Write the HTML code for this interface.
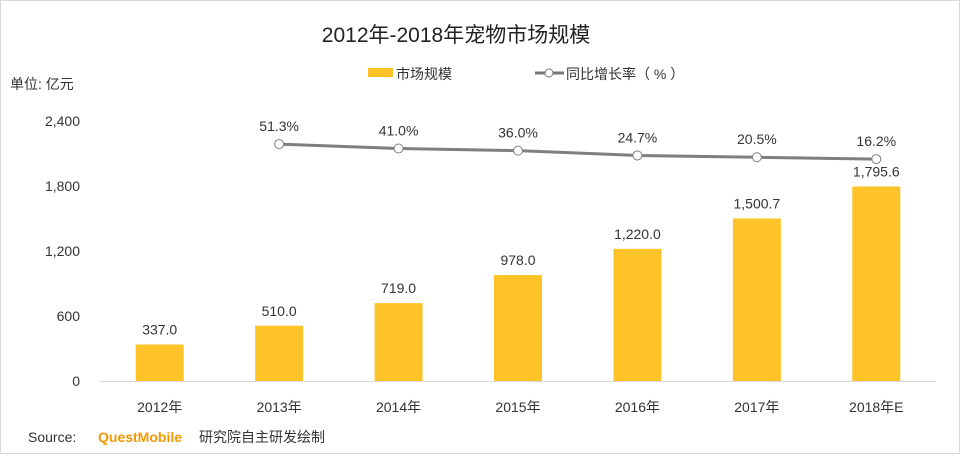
<!DOCTYPE html>
<html><head><meta charset="utf-8"><style>
html,body{margin:0;padding:0;background:#fff}
body{width:960px;height:454px;overflow:hidden;font-family:"Liberation Sans","Noto Sans CJK SC",sans-serif}
</style></head><body>
<svg id="c" width="960" height="454" xmlns="http://www.w3.org/2000/svg" style="font-family:'Liberation Sans','Noto Sans CJK SC',sans-serif">
<rect x="0.5" y="0.5" width="959" height="453" fill="#fff" stroke="#d9d9d9"/>
<text x="456" y="42" text-anchor="middle" font-size="21" fill="#222">2012年-2018年宠物市场规模</text>
<text x="10" y="89" font-size="14" fill="#333">单位: 亿元</text>
<g>
<rect x="368" y="68" width="25" height="9" fill="#FFC32A"/>
<text x="396" y="79" font-size="14" fill="#333">市场规模</text>
<line x1="535" y1="73" x2="564" y2="73" stroke="#777" stroke-width="3"/>
<circle cx="549" cy="73" r="4" fill="#fff" stroke="#777"/>
<text x="566" y="79" font-size="14" fill="#333">同比增长率（ % ）</text>
</g>
<g id="plot"></g>
<text x="28" y="442" font-size="14" fill="#333">Source:</text>
<text x="98" y="442" font-size="14" font-weight="bold" fill="#F39800">QuestMobile</text>
<text x="199" y="442" font-size="14" fill="#333">研究院自主研发绘制</text>
</svg>
<script>
const categories=["2012年","2013年","2014年","2015年","2016年","2017年","2018年E"];
const marketValues=[337.0,510.0,719.0,978.0,1220.0,1500.7,1795.6];
const growthRates=[null,51.3,41.0,36.0,24.7,20.5,16.2];
const yTicks=[0,600,1200,1800,2400];
const NS="http://www.w3.org/2000/svg";
const g=document.getElementById('plot');
const x0=100,x1=936,y0=381,yTop=121;
const band=(x1-x0)/categories.length;
const xc=i=>x0+band*(i+0.5);
const y=v=>y0-(v/2400)*(y0-yTop);
const y2=v=>166-v*0.427;
function mk(t,a){const e=document.createElementNS(NS,t);for(const k in a)e.setAttribute(k,a[k]);g.appendChild(e);return e;}
const fmt=(v,d)=>v.toLocaleString('en-US',{minimumFractionDigits:d,maximumFractionDigits:d});
yTicks.forEach(t=>{
 const e=mk('text',{x:80,y:y(t)+5,'text-anchor':'end','font-size':14,fill:'#333'});
 e.textContent=fmt(t,0);
 
 
});
const ax=mk('line',{x1:x0,y1:y0+0.5,x2:x1,y2:y0+0.5,stroke:'#d9d9d9'});


marketValues.forEach((v,i)=>{
 const b=mk('rect',{x:xc(i)-24,y:y(v),width:48,height:y0-y(v),fill:'#FFC32A'});
 
 
 const l=mk('text',{x:xc(i),y:y(v)-10,'text-anchor':'middle','font-size':14,fill:'#333'});
 l.textContent=fmt(v,1);
 
 
 const c=mk('text',{x:xc(i),y:412,'text-anchor':'middle','font-size':14,fill:'#333'});
 c.textContent=categories[i];
 
 
});
const pts=growthRates.map((v,i)=>v==null?null:[xc(i),y2(v)]).filter(p=>p);
const pl=mk('polyline',{points:pts.map(p=>p.join(',')).join(' '),fill:'none',stroke:'#7f7f7f','stroke-width':3});


growthRates.forEach((v,i)=>{
 if(v==null)return;
 const c=mk('circle',{cx:xc(i),cy:y2(v),r:4.5,fill:'#fff',stroke:'#7f7f7f'});
 
 
 const l=mk('text',{x:xc(i),y:y2(v)-13,'text-anchor':'middle','font-size':14,fill:'#333'});
 l.textContent=v.toFixed(1)+'%';
 
 
});
</script>
</body></html>
